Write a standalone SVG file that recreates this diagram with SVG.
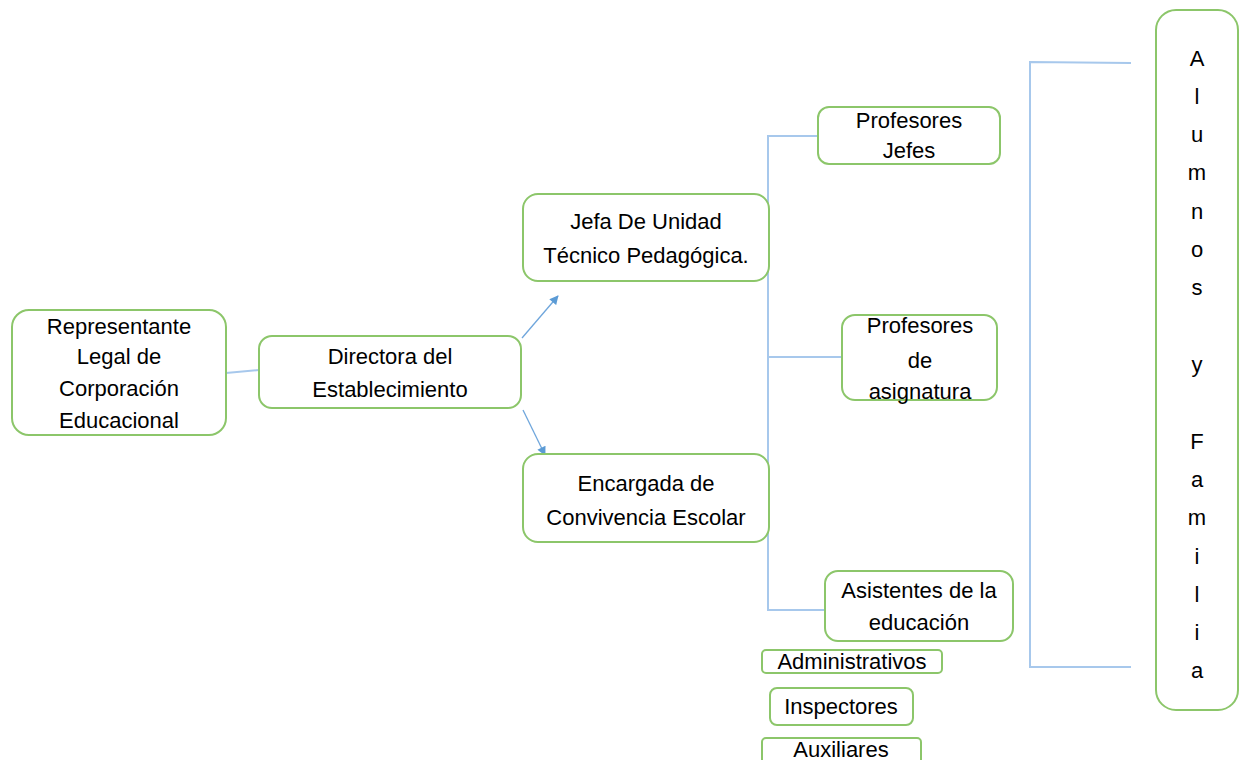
<svg xmlns="http://www.w3.org/2000/svg" width="1239" height="760" viewBox="0 0 1239 760">
<style>
.box{fill:#fff;stroke:#8cc66a;stroke-width:2}
.t{font-family:"Liberation Sans",Arial,sans-serif;font-size:22px;fill:#000;text-anchor:middle}
.ln{fill:none;stroke:#a7c8ec;stroke-width:2}
.ar{fill:none;stroke:#6fa6dc;stroke-width:1.3}
</style>
<defs>
<marker id="ah" viewBox="0 0 10 10" refX="9" refY="5" markerWidth="10" markerHeight="9" orient="auto" markerUnits="userSpaceOnUse">
<path d="M0,0 L10,5 L0,10 z" fill="#5b9bd5"/>
</marker>
</defs>
<rect width="1239" height="760" fill="#fff"/>
<g id="connectors">
<line class="ln" x1="226" y1="373" x2="259" y2="370"/>
<line class="ar" x1="522" y1="338" x2="558" y2="296" marker-end="url(#ah)"/>
<line class="ar" x1="523" y1="410" x2="545" y2="455" marker-end="url(#ah)"/>
<polyline class="ln" points="818,136 768,136 768,610 825,610"/>
<line class="ln" x1="768" y1="357" x2="842" y2="357"/>
<polyline class="ln" points="1131,63 1030,62 1030,667 1131,667"/>
</g>
<g id="representante">
<rect class="box" x="12" y="310" width="214" height="125" rx="17"/>
<text class="t" x="119" y="334">Representante</text>
<text class="t" x="119" y="364">Legal de</text>
<text class="t" x="119" y="396">Corporación</text>
<text class="t" x="119" y="428">Educacional</text>
</g>
<g id="directora">
<rect class="box" x="259" y="336" width="262" height="72" rx="13"/>
<text class="t" x="390" y="364">Directora del</text>
<text class="t" x="390" y="397">Establecimiento</text>
</g>
<g id="jefa">
<rect class="box" x="523" y="194" width="246" height="87" rx="15"/>
<text class="t" x="646" y="229">Jefa De Unidad</text>
<text class="t" x="646" y="263">Técnico Pedagógica.</text>
</g>
<g id="encargada">
<rect class="box" x="523" y="454" width="246" height="88" rx="15"/>
<text class="t" x="646" y="491">Encargada de</text>
<text class="t" x="646" y="525">Convivencia Escolar</text>
</g>
<g id="profesores-jefes">
<rect class="box" x="818" y="107" width="182" height="57" rx="11"/>
<text class="t" x="909" y="128">Profesores</text>
<text class="t" x="909" y="158">Jefes</text>
</g>
<g id="profesores-asignatura">
<rect class="box" x="842" y="315" width="155" height="85" rx="13"/>
<text class="t" x="920" y="333">Profesores</text>
<text class="t" x="920" y="368">de</text>
<text class="t" x="920" y="399">asignatura</text>
</g>
<g id="asistentes">
<rect class="box" x="825" y="571" width="188" height="70" rx="13"/>
<text class="t" x="919" y="598">Asistentes de la</text>
<text class="t" x="919" y="630">educación</text>
</g>
<g id="administrativos">
<rect class="box" x="762" y="650" width="180" height="23" rx="4"/>
<text class="t" x="852" y="669">Administrativos</text>
</g>
<g id="inspectores">
<rect class="box" x="770" y="688" width="143" height="37" rx="7"/>
<text class="t" x="841" y="714">Inspectores</text>
</g>
<g id="auxiliares">
<rect class="box" x="762" y="738" width="159" height="30" rx="4"/>
<text class="t" x="841" y="757">Auxiliares</text>
</g>
<g id="alumnos">
<rect class="box" x="1156" y="10" width="82" height="700" rx="20"/>
<text class="t" x="1197" y="66">A</text>
<text class="t" x="1197" y="104">l</text>
<text class="t" x="1197" y="142">u</text>
<text class="t" x="1197" y="180">m</text>
<text class="t" x="1197" y="219">n</text>
<text class="t" x="1197" y="257">o</text>
<text class="t" x="1197" y="295">s</text>
<text class="t" x="1197" y="372">y</text>
<text class="t" x="1197" y="449">F</text>
<text class="t" x="1197" y="487">a</text>
<text class="t" x="1197" y="525">m</text>
<text class="t" x="1197" y="564">i</text>
<text class="t" x="1197" y="602">l</text>
<text class="t" x="1197" y="640">i</text>
<text class="t" x="1197" y="678">a</text>
</g>
</svg>
